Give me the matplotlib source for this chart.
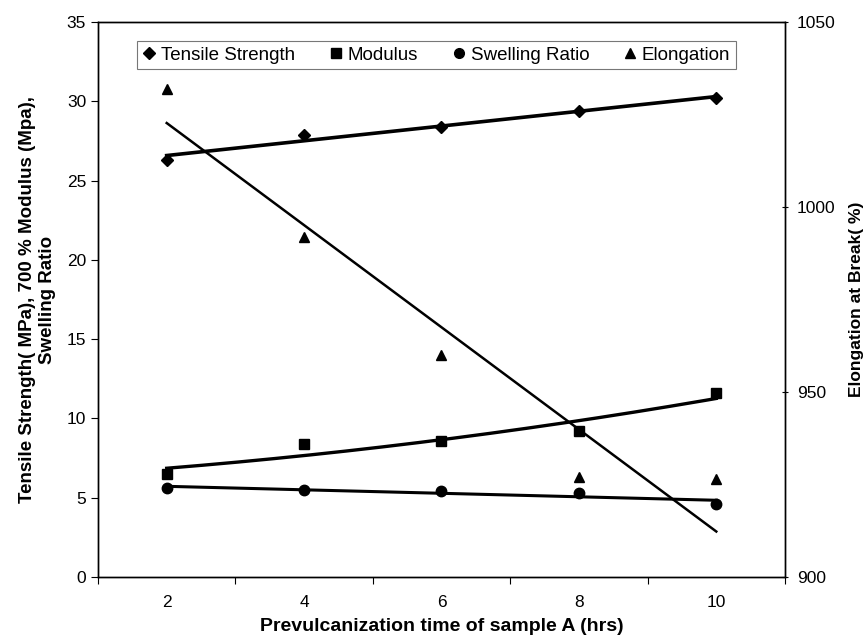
import numpy as np
import matplotlib
matplotlib.use("Agg")
import matplotlib.pyplot as plt
from matplotlib.lines import Line2D

plt.rcParams['font.family'] = ['Liberation Sans', 'DejaVu Sans']

hours = [2, 4, 6, 8, 10]
tensile = [26.3, 27.9, 28.4, 29.4, 30.2]
modulus = [6.5, 8.4, 8.6, 9.2, 11.6]
swelling = [5.6, 5.5, 5.4, 5.3, 4.6]
elongation = [1032, 992, 960, 927, 926.5]

fig = plt.figure(figsize=(8.65, 6.4), dpi=100)
ax = fig.add_axes([0.1133, 0.0984, 0.7942, 0.8672])
ax2 = ax.twinx()

x = np.array(hours, dtype=float)
xf = np.linspace(x.min(), x.max(), 200)

ms = 7.5
ax.plot(x, tensile, 'D', color='black', ms=6.5, ls='none')
ax.plot(xf, np.polyval(np.polyfit(x, tensile, 1), xf), color='black', lw=2.6)
ax.plot(x, modulus, 's', color='black', ms=ms, ls='none')
ax.plot(xf, np.polyval(np.polyfit(x, modulus, 2), xf), color='black', lw=2.4)
ax.plot(x, swelling, 'o', color='black', ms=ms, ls='none')
ax.plot(xf, np.polyval(np.polyfit(x, swelling, 1), xf), color='black', lw=2.2)
ax2.plot(x, elongation, '^', color='black', ms=ms, ls='none')
ax2.plot(xf, np.polyval(np.polyfit(x, elongation, 1), xf), color='black', lw=1.8)

ax.set_xlim(1, 11)
ax.set_ylim(0, 35)
ax2.set_ylim(900, 1050)
ax.set_yticks(np.arange(0, 36, 5))
ax2.set_yticks([900, 950, 1000, 1050])
ax.set_xticks(hours)
ax.set_xticks([1, 3, 5, 7, 9, 11], minor=True)
ax.tick_params(axis='x', which='major', length=0, labelsize=12.5, pad=13)
ax.tick_params(axis='x', which='minor', length=5, direction='out', width=0.8)
ax.tick_params(axis='y', length=5, direction='out', labelsize=12.5, width=0.8)
ax2.tick_params(axis='y', length=5, direction='inout', labelsize=12.5, width=0.8, pad=6)

for a in (ax, ax2):
    for s in a.spines.values():
        s.set_linewidth(1.0)

ax.set_xlabel('Prevulcanization time of sample A (hrs)', fontsize=14, fontweight='bold', labelpad=6)
ax.set_ylabel('Tensile Strength( MPa), 700 % Modulus (Mpa),\nSwelling Ratio', fontsize=13.5,
              fontweight='bold', labelpad=8, linespacing=1.2)
ax2.set_ylabel('Elongation at Break( %)', fontsize=12.5, fontweight='bold', labelpad=10)

handles = [
    Line2D([], [], marker='D', color='black', ls='none', ms=6),
    Line2D([], [], marker='s', color='black', ls='none', ms=7),
    Line2D([], [], marker='o', color='black', ls='none', ms=7),
    Line2D([], [], marker='^', color='black', ls='none', ms=7),
]
labels = ['Tensile Strength', 'Modulus', 'Swelling Ratio', 'Elongation']
leg = ax.legend(handles, labels, loc='upper center', bbox_to_anchor=(0.4927, 0.966), ncol=4,
                fontsize=13.5, frameon=True, fancybox=False, handlelength=0.7,
                handletextpad=0.3, columnspacing=1.8, borderpad=0.3, borderaxespad=0)
leg.get_frame().set_edgecolor('#555555')
leg.get_frame().set_linewidth(0.8)

fig.savefig('out.png', dpi=100)
